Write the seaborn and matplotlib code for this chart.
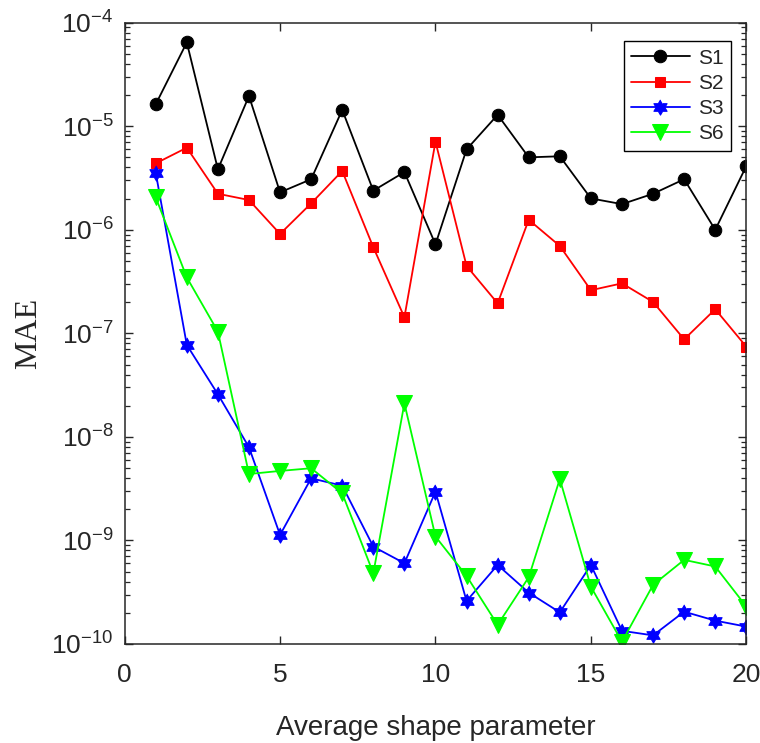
import numpy as np
import pandas as pd
import matplotlib
matplotlib.use("Agg")
import matplotlib.pyplot as plt
import seaborn as sns
from matplotlib.ticker import LogLocator, NullFormatter, FixedLocator

x_vals = list(range(1, 21))
s1 = [1.63e-5, 6.45e-5, 3.84e-6, 1.96e-5, 2.30e-6, 3.08e-6, 1.44e-5, 2.39e-6, 3.61e-6, 7.24e-7,
      5.98e-6, 1.29e-5, 5.01e-6, 5.13e-6, 2.01e-6, 1.77e-6, 2.23e-6, 3.08e-6, 1.00e-6, 4.13e-6]
s2 = [4.38e-6, 6.21e-6, 2.23e-6, 1.94e-6, 9.12e-7, 1.80e-6, 3.70e-6, 6.78e-7, 1.43e-7, 7.10e-6,
      4.47e-7, 1.95e-7, 1.25e-6, 6.98e-7, 2.61e-7, 3.04e-7, 2.01e-7, 8.75e-8, 1.71e-7, 7.43e-8]
s3 = [3.56e-6, 7.73e-8, 2.58e-8, 7.94e-9, 1.13e-9, 3.98e-9, 3.38e-9, 8.71e-10, 6.02e-10, 2.96e-9,
      2.60e-10, 5.79e-10, 3.13e-10, 2.02e-10, 5.79e-10, 1.34e-10, 1.21e-10, 2.05e-10, 1.68e-10, 1.47e-10]
s6 = [2.06e-6, 3.47e-7, 1.04e-7, 4.38e-9, 4.69e-9, 4.98e-9, 2.85e-9, 4.82e-10, 2.11e-8, 1.09e-9,
      4.54e-10, 1.53e-10, 4.41e-10, 3.92e-9, 3.57e-10, 1.05e-10, 3.72e-10, 6.49e-10, 5.60e-10, 2.30e-10]
series_names = ["S1", "S2", "S3", "S6"]
x_ticks = [0, 5, 10, 15, 20]
y_exponents = [-10, -9, -8, -7, -6, -5, -4]

sns.set_style("white")
plt.rcParams["font.family"] = ["Liberation Sans", "DejaVu Sans"]
plt.rcParams["mathtext.fontset"] = "custom"
plt.rcParams["mathtext.rm"] = "Liberation Sans"
plt.rcParams["mathtext.default"] = "regular"

df = pd.DataFrame({
    "x": x_vals * 4,
    "MAE": s1 + s2 + s3 + s6,
    "series": sum([[n] * len(x_vals) for n in series_names], []),
})

# hexagram (MATLAB 'h') marker shape
ang = np.deg2rad(90 + np.arange(12) * 30)
rad = np.where(np.arange(12) % 2 == 0, 1.0, 1 / np.sqrt(3))
hexagram = list(zip(rad * np.cos(ang), rad * np.sin(ang)))

styles = {
    "S1": dict(color="#000000", marker="o", ms=9.0),
    "S2": dict(color="#FF0000", marker="s", ms=7.5),
    "S3": dict(color="#0000FF", marker=hexagram, ms=11),
    "S6": dict(color="#00FF00", marker="v", ms=12),
}

fig = plt.figure(figsize=(7.6, 7.43), dpi=100)
ax = fig.add_axes([0.164, 0.1333, 0.818, 0.8361])

for name in series_names:
    st = styles[name]
    sub = df[df["series"] == name]
    sns.lineplot(data=sub, x="x", y="MAE", ax=ax, color=st["color"], marker=st["marker"],
                 markersize=st["ms"], markeredgecolor=st["color"], markerfacecolor=st["color"],
                 linewidth=1.3, label=name, estimator=None, sort=False)

ax.set_yscale("log")
ax.set_xlim(0, 20)
ax.set_ylim(1e-10, 1e-4)
ax.xaxis.set_major_locator(FixedLocator(x_ticks))
ax.set_xticklabels([str(t) for t in x_ticks])
ax.set_yticks([10.0 ** e for e in y_exponents])
ax.set_yticklabels([r"$10^{%d}$" % e for e in y_exponents])
ax.yaxis.set_minor_locator(LogLocator(base=10, subs=np.arange(2, 10), numticks=20))
ax.yaxis.set_minor_formatter(NullFormatter())

gray = "#262626"
for sp in ax.spines.values():
    sp.set_color(gray)
    sp.set_linewidth(1.1)
    sp.set_visible(True)
ax.tick_params(axis="both", which="major", direction="in", length=6, width=1.0,
               color=gray, labelcolor=gray, labelsize=19, top=True, right=True, left=True, bottom=True)
ax.tick_params(axis="y", which="minor", direction="in", length=3.5, width=0.9,
               color=gray, left=True, right=True)
ax.tick_params(axis="x", which="major", pad=14)
ax.tick_params(axis="y", which="major", pad=8)

ax.set_xlabel("Average shape parameter", fontsize=20, color=gray, labelpad=20)
ax.set_ylabel("MAE", fontsize=23, family="Liberation Serif", color=gray, labelpad=6)

leg = ax.legend(loc="upper right", bbox_to_anchor=(0.975, 0.97), fontsize=15, frameon=True,
                fancybox=False, edgecolor="#000000", framealpha=1, handlelength=2.8,
                borderpad=0.35, labelspacing=0.3, handletextpad=0.4, borderaxespad=0.0)
leg.get_frame().set_linewidth(1.0)

fig.savefig("out.png", dpi=100)
